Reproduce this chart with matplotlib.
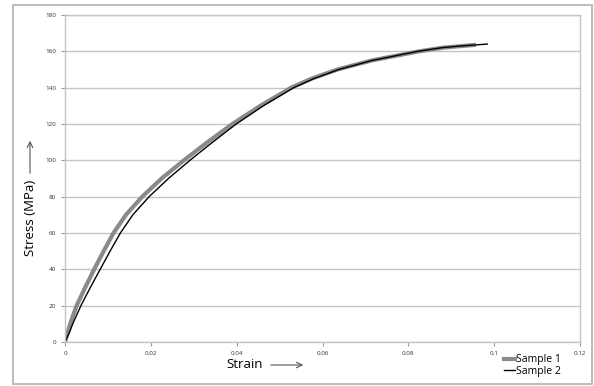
import numpy as np
import matplotlib.pyplot as plt
from matplotlib.patches import Rectangle

# data (strain, stress in MPa)
strain_1 = [0, 0.0012, 0.0027, 0.0047, 0.0068, 0.0090, 0.0113, 0.0142, 0.0180,
            0.0225, 0.0277, 0.0332, 0.0390, 0.0455, 0.0527, 0.0575, 0.0635,
            0.0715, 0.0825, 0.0880, 0.0953]
stress_1 = [0, 10, 20, 30, 40, 50, 60, 70, 80, 90, 100, 110, 120, 130, 140, 145,
            150, 155, 160, 162, 163.5]

strain_2 = [0, 0.0010, 0.0018, 0.0037, 0.0059, 0.0082, 0.0105, 0.0129, 0.0158,
            0.0196, 0.0241, 0.0291, 0.0344, 0.0399, 0.0462, 0.0533, 0.0580,
            0.0638, 0.0716, 0.0822, 0.0878, 0.0925, 0.0955, 0.0984]
stress_2 = [0, 5, 10, 20, 30, 40, 50, 60, 70, 80, 90, 100, 110, 120, 130, 140,
            145, 150, 155, 160, 162, 163, 163.5, 164]

x_ticks = [0, 0.02, 0.04, 0.06, 0.08, 0.1, 0.12]
x_tick_labels = ["0", "0.02", "0.04", "0.06", "0.08", "0.1", "0.12"]
y_ticks = list(range(0, 181, 20))

W, H = 594, 386
fig = plt.figure(figsize=(W / 100, H / 100), dpi=100)
plt.rcParams['font.family'] = ['Open Sans', 'DejaVu Sans']

# outer chart frame
fig.patches.append(Rectangle((13 / W, 2 / H), 579 / W, 379 / H, transform=fig.transFigure,
                             fill=False, edgecolor="#bdbdbd", linewidth=1.5))

ax = fig.add_axes([65 / W, 44 / H, 515 / W, 327 / H])
ax.plot(strain_1, stress_1, color="#8a8a8a", linewidth=3, label="Sample 1",
        solid_joinstyle="round")
ax.plot(strain_2, stress_2, color="black", linewidth=1, label="Sample 2")

ax.set_xlim(0, 0.12)
ax.set_ylim(0, 180)
ax.set_xticks(x_ticks)
ax.set_xticklabels(x_tick_labels)
ax.set_yticks(y_ticks)
ax.tick_params(labelsize=4.5, colors="#9a9a9a", labelcolor="#333333",
               length=3, width=0.8)
ax.grid(axis="y", color="#c4c4c4", linewidth=1)
ax.set_axisbelow(True)
for s in ax.spines.values():
    s.set_color("#c4c4c4")
    s.set_linewidth(1)

# axis labels with long arrows
fig.text(226 / W, 1 - 365 / H, "Strain", fontsize=9.5, ha="left", va="center")
ax.annotate("", xy=(306 / W, 1 - 365 / H), xytext=(268 / W, 1 - 365 / H),
            xycoords="figure fraction",
            arrowprops=dict(arrowstyle="->", color="#555555", lw=0.8))
fig.text(30 / W, 1 - 218 / H, "Stress (MPa)", fontsize=9.5, rotation=90,
         ha="center", va="center")
ax.annotate("", xy=(30 / W, 1 - 138 / H), xytext=(30 / W, 1 - 176 / H),
            xycoords="figure fraction",
            arrowprops=dict(arrowstyle="->", color="#555555", lw=0.8))

fig.legend(loc="lower left", bbox_to_anchor=(504 / W, 1 - 377 / H), frameon=False,
           fontsize=7.5, handlelength=1.1, handletextpad=0.1, labelspacing=0.05,
           borderpad=0, borderaxespad=0)

fig.savefig("out.png", dpi=100)
